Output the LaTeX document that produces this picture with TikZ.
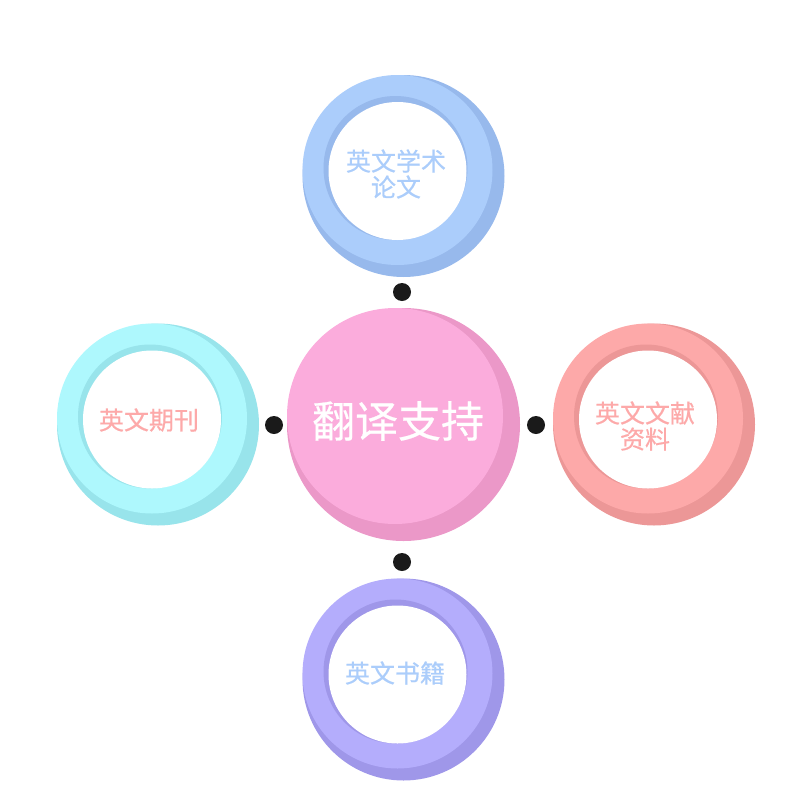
\documentclass[tikz,border=0pt]{standalone}
\usepackage{fontspec}
\newfontfamily\cjk[FakeBold=0.5]{Noto Sans CJK SC}
\definecolor{blueL}{HTML}{ABCDFB}
\definecolor{blueD}{HTML}{97B9EC}
\definecolor{cyanL}{HTML}{AEF8FD}
\definecolor{cyanD}{HTML}{98E4EB}
\definecolor{salL}{HTML}{FDA9A9}
\definecolor{salD}{HTML}{EC9797}
\definecolor{purL}{HTML}{B4ADFC}
\definecolor{purD}{HTML}{9F97E9}
\definecolor{pinkL}{HTML}{FBACDC}
\definecolor{pinkD}{HTML}{EB98C8}
\definecolor{dotc}{HTML}{1A1A1A}
\newcommand\drawring[4]{%
  \fill[#4] (#1,#2) circle (101pt);
  \fill[#3] ({#1-6},{#2-6}) circle (95pt);
  \fill[#4] ({#1-8},{#2-8}) circle (72pt);
  \fill[white] ({#1-6},{#2-5}) circle (69pt);
}
\begin{document}
\begin{tikzpicture}[x=1pt,y=-1pt,
  lbl/.style={align=center,font=\cjk\fontsize{25}{26}\selectfont,inner sep=0pt},
  dotn/.style={circle,fill=dotc,minimum size=18pt,inner sep=0pt}]
\useasboundingbox (0,0) rectangle (806,806);
% rings
\drawring{403.5}{176}{blueL}{blueD}
\drawring{158}{424.5}{cyanL}{cyanD}
\drawring{654}{424.5}{salL}{salD}
\drawring{403.5}{679.5}{purL}{purD}
% center
\fill[pinkD] (403.5,424.5) circle (116.5pt);
\fill[pinkL] (395,416) circle (108pt);
\node[font=\cjk\fontsize{43}{45}\selectfont,text=white,inner sep=0pt] (center) at (398,421) {翻译支持};
% labels
\node[lbl,text=blueL] (top) at (396,174) {英文学术\\论文};
\node[lbl,text=salL] (left) at (149,420) {英文期刊};
\node[lbl,text=salL] (right) at (645,426) {英文文献\\资料};
\node[lbl,text=blueL] (bottom) at (395,673) {英文书籍};
% dots
\node[dotn] (d1) at (402,292) {};
\node[dotn] (d2) at (274,425) {};
\node[dotn] (d3) at (536,425) {};
\node[dotn] (d4) at (402,562) {};
\end{tikzpicture}
\end{document}
